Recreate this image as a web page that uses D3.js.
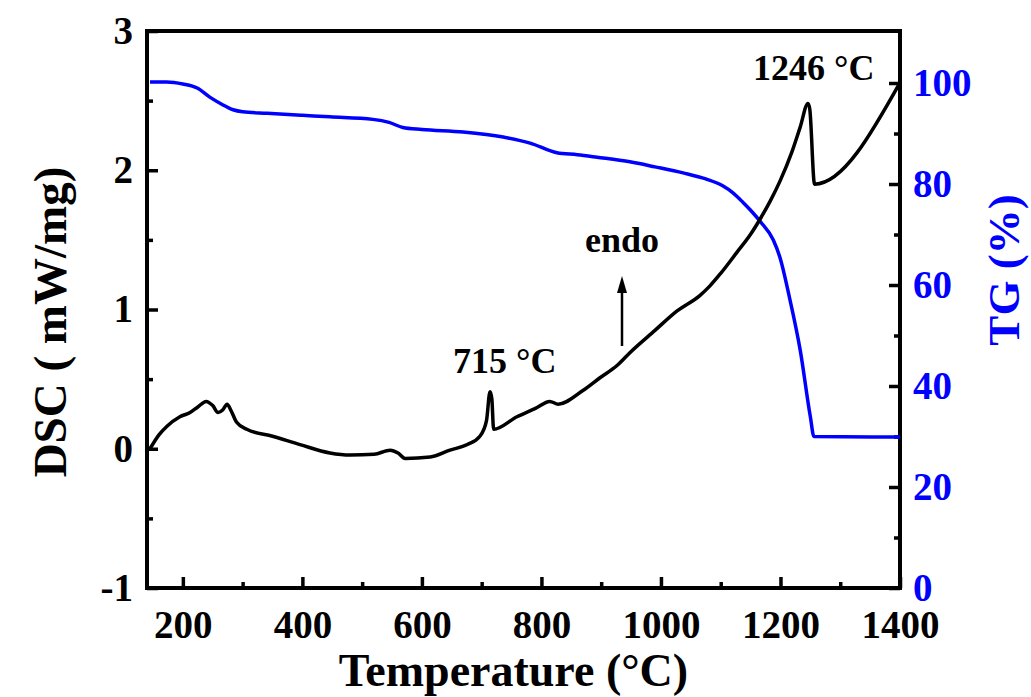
<!DOCTYPE html>
<html>
<head>
<meta charset="utf-8">
<script src="https://cdn.jsdelivr.net/npm/d3@7"></script>
<style>
  body { margin: 0; background: #fff; }
  svg text { font-family: "Liberation Serif", "Times New Roman", serif; font-weight: bold; }
</style>
</head>
<body>
<div id="chart"></div>
<script>
// DSC curve (mW/mg) vs temperature
var dscTemp = [145, 160, 173, 195, 212, 225, 239, 250, 259, 267, 274, 280, 290, 307, 350, 396, 446, 480, 520, 547, 560, 572, 614, 647, 676, 697, 708, 714, 717, 720, 759, 790, 814, 828, 870, 898, 927, 948, 990, 1027, 1065, 1082, 1100, 1127, 1150, 1166, 1183, 1199, 1219, 1233, 1246, 1249, 1257, 1400];
var dscVal  = [0.0, 0.1, 0.16, 0.23, 0.26, 0.3, 0.34, 0.31, 0.26, 0.28, 0.32, 0.28, 0.19, 0.14, 0.09, 0.03, -0.03, -0.045, -0.04, -0.01, -0.03, -0.07, -0.06, -0.01, 0.03, 0.09, 0.2, 0.41, 0.36, 0.14, 0.23, 0.29, 0.34, 0.32, 0.42, 0.51, 0.6, 0.69, 0.85, 0.99, 1.1, 1.17, 1.26, 1.41, 1.54, 1.65, 1.78, 1.92, 2.13, 2.31, 2.48, 2.44, 1.9, 2.63];

// TG curve (%) vs temperature
var tgTemp = [145, 173, 200, 224, 245, 265, 284, 300, 341, 400, 446, 518, 545, 568, 600, 669, 736, 781, 826, 860, 893, 948, 990, 1037, 1075, 1104, 1120, 1137, 1150, 1166, 1188, 1199, 1216, 1233, 1250, 1256, 1400];
var tgVal  = [100.2, 100.2, 99.8, 99.0, 97.2, 95.8, 94.7, 94.3, 94.0, 93.6, 93.3, 92.8, 92.2, 91.2, 90.8, 90.3, 89.3, 88.1, 86.2, 85.8, 85.3, 84.4, 83.4, 82.2, 81.0, 79.6, 78.3, 76.4, 74.8, 72.6, 68.9, 65.5, 57, 47.1, 33.9, 30.0, 29.9];

var xTicks = [200, 400, 600, 800, 1000, 1200, 1400];
var xMinor = [300, 500, 700, 900, 1100, 1300];
var dscTicks = [-1, 0, 1, 2, 3];
var dscMinor = [-0.5, 0.5, 1.5, 2.5];
var tgTicks = [0, 20, 40, 60, 80, 100];
var tgMinor = [10, 30, 50, 70, 90];

var margin = {top: 31, right: 131, bottom: 109, left: 147},
    width = 1031 - margin.left - margin.right,
    height = 697 - margin.top - margin.bottom;

var svg = d3.select('#chart')
    .append('svg')
    .attr('width', 1031)
    .attr('height', 697)
  .append('g')
    .attr('transform', 'translate(' + margin.left + ',' + margin.top + ')');

var x = d3.scaleLinear().domain([140, 1400]).range([0, width]);
var y = d3.scaleLinear().domain([-1, 3]).range([height, 0]);
var y2 = d3.scaleLinear().domain([0, 110.3]).range([height, 0]);

var blue = '#0000ff';

// axes: ticks pointing inward
function styleAxis(g, color) {
    g.select('.domain').remove();
    g.selectAll('line').attr('stroke', color).attr('stroke-width', 3.5);
    g.selectAll('text').attr('fill', color).attr('font-size', 39);
}

svg.append('g')
    .attr('transform', 'translate(0,' + height + ')')
    .call(d3.axisBottom(x).tickValues(xTicks).tickSize(-11).tickPadding(22).tickFormat(d3.format('d')))
    .call(function(g) { styleAxis(g, '#000'); });
svg.append('g')
    .attr('transform', 'translate(0,' + height + ')')
    .call(d3.axisBottom(x).tickValues(xMinor).tickSize(-6).tickFormat(''))
    .call(function(g) { styleAxis(g, '#000'); });

svg.append('g')
    .call(d3.axisLeft(y).tickValues(dscTicks).tickSize(-11).tickPadding(14).tickFormat(function(d) { return d < 0 ? '-' + Math.abs(d) : d; }))
    .call(function(g) { styleAxis(g, '#000'); });
svg.append('g')
    .call(d3.axisLeft(y).tickValues(dscMinor).tickSize(-6).tickFormat(''))
    .call(function(g) { styleAxis(g, '#000'); });

svg.append('g')
    .attr('transform', 'translate(' + width + ',0)')
    .call(d3.axisRight(y2).tickValues(tgTicks).tickSize(-11).tickPadding(13))
    .call(function(g) { styleAxis(g, '#000'); g.selectAll('text').attr('fill', blue); });
svg.append('g')
    .attr('transform', 'translate(' + width + ',0)')
    .call(d3.axisRight(y2).tickValues(tgMinor).tickSize(-6).tickFormat(''))
    .call(function(g) { styleAxis(g, '#000'); });

// frame
svg.append('rect')
    .attr('width', width)
    .attr('height', height)
    .attr('fill', 'none')
    .attr('stroke', '#000')
    .attr('stroke-width', 4);

// curves
var dscLine = d3.line()
    .x(function(d, i) { return x(dscTemp[i]); })
    .y(function(d) { return y(d); })
    .curve(d3.curveMonotoneX);
var tgLine = d3.line()
    .x(function(d, i) { return x(tgTemp[i]); })
    .y(function(d) { return y2(d); })
    .curve(d3.curveMonotoneX);

svg.append('path')
    .attr('d', tgLine(tgVal))
    .attr('fill', 'none')
    .attr('stroke', blue)
    .attr('stroke-width', 3.5);

svg.append('path')
    .attr('d', dscLine(dscVal))
    .attr('fill', 'none')
    .attr('stroke', '#000')
    .attr('stroke-width', 3.5)
    .attr('stroke-linejoin', 'round');

// annotations
svg.append('text').attr('x', 753 - margin.left).attr('y', 80 - margin.top)
    .attr('font-size', 36).text('1246 °C');
svg.append('text').attr('x', 453 - margin.left).attr('y', 373 - margin.top)
    .attr('font-size', 36).text('715 °C');
svg.append('text').attr('x', 585 - margin.left).attr('y', 252 - margin.top)
    .attr('font-size', 36).text('endo');

// endo arrow
var ax = 622 - margin.left;
svg.append('line')
    .attr('x1', ax).attr('y1', 346 - margin.top)
    .attr('x2', ax).attr('y2', 290 - margin.top)
    .attr('stroke', '#000').attr('stroke-width', 2.5);
svg.append('path')
    .attr('d', 'M' + ax + ',' + (276 - margin.top) + 'L' + (ax - 5) + ',' + (293 - margin.top) + 'L' + (ax + 5) + ',' + (293 - margin.top) + 'Z')
    .attr('fill', '#000');

// axis titles
svg.append('text')
    .attr('x', width / 2 - 10)
    .attr('y', 686 - margin.top)
    .attr('text-anchor', 'middle')
    .attr('font-size', 46)
    .text('Temperature (°C)');

svg.append('text')
    .attr('transform', 'translate(' + (66 - margin.left) + ',' + (322 - margin.top) + ') rotate(-90)')
    .attr('text-anchor', 'middle')
    .attr('font-size', 47)
    .text('DSC ( mW/mg)');

svg.append('text')
    .attr('transform', 'translate(' + (1019 - margin.left) + ',' + (270 - margin.top) + ') rotate(-90)')
    .attr('text-anchor', 'middle')
    .attr('font-size', 45)
    .attr('fill', blue)
    .text('TG (%)');
</script>
</body>
</html>
